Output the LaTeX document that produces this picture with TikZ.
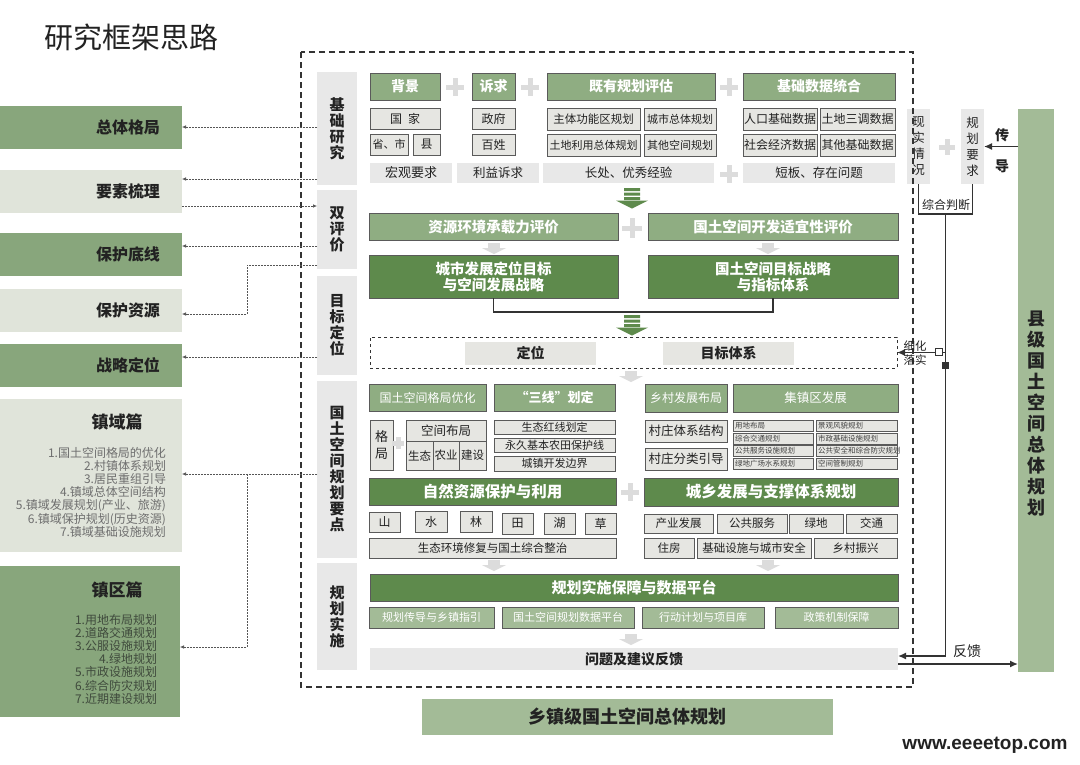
\documentclass[tikz,border=0pt]{standalone}
\usepackage{fontspec}
\setmainfont{Noto Sans CJK SC}
\newfontfamily\wmfont{Liberation Sans}
\usepackage{tikz}
\usetikzlibrary{arrows.meta,calc}

\definecolor{darkgreen}{HTML}{5E8A4C}
\definecolor{midgreen}{HTML}{8FAD82}
\definecolor{palegreen}{HTML}{A3BB97}
\definecolor{sidegreen}{HTML}{88A67C}
\definecolor{sidelight}{HTML}{E0E4DA}
\definecolor{cellgrey}{HTML}{E6E6E2}
\definecolor{labelgrey}{HTML}{E8E8E8}
\definecolor{edgegrey}{HTML}{5A5A5A}
\definecolor{linegrey}{HTML}{333333}
\definecolor{linkgrey}{HTML}{555555}
\definecolor{softgrey}{HTML}{DCDCDC}
\definecolor{listgrey}{HTML}{6E6E6E}
\definecolor{listdark}{HTML}{3F4A3C}
\definecolor{txtdark}{HTML}{222222}

\newcommand{\fsz}[2]{\fontsize{#1}{#2}\selectfont}
% striped green arrow, x and top y
\newcommand{\greenarrow}[2]{%
  \fill[darkgreen] (#1-8,#2) rectangle (#1+8,#2+3) (#1-8,#2+4.5) rectangle (#1+8,#2+7.5) (#1-8,#2+9) rectangle (#1+8,#2+12);
  \fill[darkgreen] (#1-16,#2+12.5) -- (#1+16,#2+12.5) -- (#1,#2+20.5) -- cycle;}
% pale grey arrow, x and top y
\newcommand{\softarrow}[2]{%
  \fill[softgrey] (#1-6,#2) rectangle (#1+6,#2+5);
  \fill[softgrey] (#1-12,#2+5) -- (#1+12,#2+5) -- (#1,#2+11) -- cycle;}
% grey plus sign, x, y and half length
\newcommand{\plusmark}[3]{%
  \draw[plusline] (#1-#3,#2) -- (#1+#3,#2) (#1,#2-#3) -- (#1,#2+#3);}

\begin{document}
\begin{tikzpicture}[x=1pt, y=-1pt,
	every node/.style={inner sep=0pt, outer sep=0pt, text=txtdark},
	sz/.style 2 args={minimum width=#1pt, minimum height=#2pt},
	box/.style={draw=edgegrey, line width=0.6pt, fill=cellgrey},
	head/.style={draw=edgegrey, line width=0.6pt, fill=midgreen, text=white, font=\bfseries\fsz{14}{16}},
	strong/.style={draw=edgegrey, line width=0.6pt, fill=darkgreen, text=white, font=\bfseries\fsz{14.5}{16}},
	soft/.style={draw=edgegrey, line width=0.5pt, fill=palegreen, text=white, font=\fsz{11}{13}},
	tag/.style={fill=labelgrey},
	sec/.style={fill=labelgrey, minimum width=40pt, align=center, font=\bfseries\fsz{15}{16}},
	outbox/.style={sz={182}{43}, text width=138pt, inner xsep=22pt, align=right, font=\bfseries\fsz{16}{18}},
	mini/.style={box, line width=0.4pt, minimum height=11pt, inner xsep=2pt, align=left, text=black!75, font=\fsz{7.5}{8}},
	plusline/.style={softgrey, line width=5pt},
	flow/.style={draw=linegrey, line width=1.4pt},
	tip/.style={-{Latex[length=8pt,width=7pt]}},
	link/.style={draw=linkgrey, line width=0.6pt, dash pattern=on 2pt off 1pt, -{Latex[length=4pt,width=3.5pt]}},
	frame/.style={draw=linegrey, line width=2pt, dash pattern=on 6pt off 4pt}]
	\fill[white] (0,0) rectangle (1080,764);
	\useasboundingbox (0,0) rectangle (1080,764);

	\node[font=\fsz{29}{31}] (title) at (132,37) {研究框架思路};

	% left column
	\node[outbox, fill=sidegreen] (lb1) at (91,127) {总体格局};
	\node[outbox, fill=sidelight] (lb2) at (91,191.5) {要素梳理};
	\node[outbox, fill=sidegreen] (lb3) at (91,254.5) {保护底线};
	\node[outbox, fill=sidelight] (lb4) at (91,310.5) {保护资源};
	\node[outbox, fill=sidegreen] (lb5) at (91,365.5) {战略定位};
	\node[fill=sidelight, sz={182}{153}] (lb6) at (91,475.5) {};
	\node[font=\bfseries\fsz{17}{19}] (lb6t) at (117,422) {镇域篇};
	\node[anchor=north east, align=right, text=listgrey, font=\fsz{12}{13.2}] (lb6l) at (166,447) {1.国土空间格局的优化\\2.村镇体系规划\\3.居民重组引导\\4.镇域总体空间结构\\5.镇域发展规划(产业、旅游)\\6.镇域保护规划(历史资源)\\7.镇域基础设施规划};
	\node[fill=sidegreen, sz={180}{151}] (lb7) at (90,641.5) {};
	\node[font=\bfseries\fsz{17}{19}] (lb7t) at (117,590) {镇区篇};
	\node[anchor=north east, align=right, text=listdark, font=\fsz{12}{13.2}] (lb7l) at (157,614) {1.用地布局规划\\2.道路交通规划\\3.公服设施规划\\4.绿地规划\\5.市政设施规划\\6.综合防灾规划\\7.近期建设规划};

	% section labels
	\node[sec, minimum height=113pt] (sec1) at (337,128.5) {基\\础\\研\\究};
	\node[sec, minimum height=79pt] (sec2) at (337,229.5) {双\\评\\价};
	\node[sec, minimum height=99pt] (sec3) at (337,325.5) {目\\标\\定\\位};
	\node[sec, minimum height=177pt] (sec4) at (337,469.5) {国\\土\\空\\间\\规\\划\\要\\点};
	\node[sec, minimum height=107pt] (sec5) at (337,616.5) {规\\划\\实\\施};

	% basic research
	\node[head, sz={70}{27}] (bg) at (405,86.5) {背景};
	\node[head, sz={43}{27}] (sq) at (493.5,86.5) {诉求};
	\node[head, sz={168}{27}] (pg) at (631,86.5) {既有规划评估};
	\node[head, sz={152}{27}] (sj) at (819,86.5) {基础数据统合};
	\plusmark{455}{87}{9}
	\plusmark{530}{87}{9}
	\plusmark{729}{87}{9}
	\node[box, sz={70}{21}, font=\fsz{12}{14}] (gj) at (405,118.5) {国\hspace{6pt}家};
	\node[box, sz={38}{21}, font=\fsz{11}{13}] (ss) at (389,144.5) {省、市};
	\node[box, sz={27}{21}, font=\fsz{12}{14}] (xian) at (426.5,144.5) {县};
	\node[box, sz={43}{21}, font=\fsz{12}{14}] (zf) at (493.5,118.5) {政府};
	\node[box, sz={43}{21}, font=\fsz{12}{14}] (bx) at (493.5,144.5) {百姓};
	\node[box, sz={93}{22}, font=\fsz{11.5}{13}] (zt) at (593.5,119) {主体功能区规划};
	\node[box, sz={72}{22}, font=\fsz{11}{13}] (cz) at (680,119) {城市总体规划};
	\node[box, sz={93}{22}, font=\fsz{11}{13}] (td) at (593.5,145) {土地利用总体规划};
	\node[box, sz={72}{22}, font=\fsz{11}{13}] (qt) at (680,145) {其他空间规划};
	\node[box, sz={74}{22}, font=\fsz{12}{14}] (rk) at (780,119) {人口基础数据};
	\node[box, sz={75}{22}, font=\fsz{12}{14}] (sd) at (857.5,119) {土地三调数据};
	\node[box, sz={74}{22}, font=\fsz{12}{14}] (sh) at (780,145) {社会经济数据};
	\node[box, sz={75}{22}, font=\fsz{12}{14}] (qj) at (857.5,145) {其他基础数据};
	\node[tag, sz={82}{20}, font=\fsz{13}{15}] (hg) at (411,173) {宏观要求};
	\node[tag, sz={82}{20}, font=\fsz{12.5}{15}] (ly) at (498,173) {利益诉求};
	\node[tag, sz={171}{20}, font=\fsz{12.5}{15}] (cc) at (628.5,173) {长处、优秀经验};
	\node[tag, sz={152}{20}, font=\fsz{12.5}{15}] (db) at (819,173) {短板、存在问题};
	\plusmark{729}{174}{9}
	\greenarrow{632}{188}

	% double evaluation
	\node[head, sz={249}{27}, font=\bfseries\fsz{14.5}{16}] (e1) at (493.5,226.5) {资源环境承载力评价};
	\node[head, sz={250}{27}, font=\bfseries\fsz{14.5}{16}] (e2) at (773,226.5) {国土空间开发适宜性评价};
	\plusmark{632}{228}{10}
	\softarrow{494}{243}
	\softarrow{768}{243}
	\node[strong, sz={249}{43}, align=center] (s1) at (493.5,276.5) {城市发展定位目标\\与空间发展战略};
	\node[strong, sz={250}{43}, align=center] (s2) at (773,276.5) {国土空间目标战略\\与指标体系};
	\draw[flow] (s1.south) -- ++(0,14) -| (s2.south);
	\greenarrow{632}{315}

	% targets
	\node[draw=linegrey, line width=0.8pt, dashed, sz={527}{31}] (tg) at (633.5,352.5) {};
	\node[fill=cellgrey, sz={131}{23}, font=\bfseries\fsz{14}{16}] (dw) at (530.5,353.5) {定位};
	\node[fill=cellgrey, sz={131}{23}, font=\bfseries\fsz{14}{16}] (mb) at (728.5,353.5) {目标体系};
	\softarrow{631}{371}

	% key points
	\node[head, sz={117}{27}, font=\fsz{12}{14}] (p1) at (427.5,397.5) {国土空间格局优化};
	\node[head, sz={121}{27}, font=\bfseries\fsz{13}{15}] (p2) at (554.5,397.5) {“三线”划定};
	\node[head, sz={82}{28}, font=\fsz{12}{14}] (p3) at (686,398) {乡村发展布局};
	\node[head, sz={165}{28}, font=\fsz{12.5}{14}] (p4) at (815.5,398) {集镇区发展};
	\node[box, sz={23}{50}, align=center, font=\fsz{13}{17}] (gju) at (381.5,445) {格\\局};
	\plusmark{398}{443}{6}
	\node[box, sz={80}{21}, font=\fsz{12.5}{14}] (kj) at (446,430.5) {空间布局};
	\node[box, sz={27}{29}, font=\fsz{11.5}{13}] (st) at (419.5,455.5) {生态};
	\node[box, sz={26}{29}, font=\fsz{11.5}{13}] (ny) at (446,455.5) {农业};
	\node[box, sz={27}{29}, font=\fsz{11.5}{13}] (js) at (472.5,455.5) {建设};
	\node[box, sz={121}{14}, font=\fsz{11}{12}] (hx) at (554.5,427) {生态红线划定};
	\node[box, sz={121}{14}, font=\fsz{11}{12}] (nt) at (554.5,445) {永久基本农田保护线};
	\node[box, sz={121}{15}, font=\fsz{11}{12}] (kf) at (554.5,463.5) {城镇开发边界};
	\node[box, sz={82}{22}, font=\fsz{12.5}{14}] (cjg) at (686,431) {村庄体系结构};
	\node[box, sz={82}{22}, font=\fsz{12.5}{14}] (cfl) at (686,459) {村庄分类引导};
	\node[mini, text width=76pt] (g1) at (773,426) {用地布局};
	\node[mini, text width=76pt] (g2) at (773,438.5) {综合交通规划};
	\node[mini, text width=76pt] (g3) at (773,451) {公共服务设施规划};
	\node[mini, text width=76pt] (g4) at (773,463.5) {绿地广场水系规划};
	\node[mini, text width=77pt] (g5) at (856.5,426) {景观风貌规划};
	\node[mini, text width=77pt] (g6) at (856.5,438.5) {市政基础设施规划};
	\node[mini, text width=77pt] (g7) at (856.5,451) {公共安全和综合防灾规划};
	\node[mini, text width=77pt] (g8) at (856.5,463.5) {空间管制规划};
	\node[strong, sz={247}{27}, font=\bfseries\fsz{15.5}{17}] (n1) at (492.5,491.5) {自然资源保护与利用};
	\node[strong, sz={254}{28}, font=\bfseries\fsz{15.5}{17}] (n2) at (771,492) {城乡发展与支撑体系规划};
	\plusmark{630}{492}{9}
	\node[box, sz={31}{20}, font=\fsz{12}{14}] (shan) at (384.5,522) {山};
	\node[box, sz={32}{21}, font=\fsz{12}{14}] (shui) at (431,521.5) {水};
	\node[box, sz={32}{21}, font=\fsz{12}{14}] (lin) at (476,521.5) {林};
	\node[box, sz={31}{21}, font=\fsz{12}{14}] (tian) at (517.5,523.5) {田};
	\node[box, sz={31}{21}, font=\fsz{12}{14}] (hu) at (559.5,523.5) {湖};
	\node[box, sz={31}{21}, font=\fsz{12}{14}] (cao) at (600.5,523.5) {草};
	\node[box, sz={247}{20}, font=\fsz{11.5}{13}] (zz) at (492.5,548) {生态环境修复与国土综合整治};
	\node[box, sz={69}{19}, font=\fsz{11.5}{13}] (cy) at (678.5,523.5) {产业发展};
	\node[box, sz={70}{19}, font=\fsz{11.5}{13}] (gg) at (752,523.5) {公共服务};
	\node[box, sz={54}{19}, font=\fsz{11.5}{13}] (ld) at (816,523.5) {绿地};
	\node[box, sz={51}{19}, font=\fsz{11.5}{13}] (jt) at (871.5,523.5) {交通};
	\node[box, sz={50}{20}, font=\fsz{11.5}{13}] (zf2) at (669,548) {住房};
	\node[box, sz={114}{20}, font=\fsz{11.5}{13}] (jc) at (754,548) {基础设施与城市安全};
	\node[box, sz={83}{20}, font=\fsz{11.5}{13}] (zx) at (855.5,548) {乡村振兴};
	\softarrow{494}{560}
	\softarrow{768}{560}

	% implementation
	\node[strong, sz={528}{27}, font=\bfseries\fsz{15}{17}] (im) at (634,587.5) {规划实施保障与数据平台};
	\node[soft, sz={125}{21}] (i1) at (431.5,617.5) {规划传导与乡镇指引};
	\node[soft, sz={132}{21}] (i2) at (568,617.5) {国土空间规划数据平台};
	\node[soft, sz={122}{21}] (i3) at (703,617.5) {行动计划与项目库};
	\node[soft, sz={123}{21}] (i4) at (836.5,617.5) {政策机制保障};
	\softarrow{631}{634}
	\node[tag, sz={528}{22}, font=\bfseries\fsz{14}{16}] (fb) at (634,659) {问题及建议反馈};

	% right side
	\node[tag, sz={23}{75}, align=center, font=\fsz{12.5}{16}] (xs) at (918.5,146.5) {现\\实\\情\\况};
	\node[tag, sz={23}{75}, align=center, font=\fsz{12.5}{16}] (gy) at (972.5,146.5) {规\\划\\要\\求};
	\plusmark{947}{147}{8}
	\node[fill=palegreen, sz={36}{563}] (cty) at (1036,390.5) {};
	\node[align=center, font=\bfseries\fsz{18}{21}] (ctyt) at (1036,414) {县\\级\\国\\土\\空\\间\\总\\体\\规\\划};
	\node[fill=palegreen, sz={411}{36}, font=\bfseries\fsz{18}{20}] (xz) at (627.5,717) {乡镇级国土空间总体规划};

	\draw[frame] (301,52) rectangle (913,687);

	\draw[flow] (xs.south) -- ++(0,30) -| (gy.south);
	\node[font=\fsz{12}{14}] (zh) at (946,205) {综合判断};
	\coordinate (jd) at ($(xs.south)!0.5!(gy.south)+(0,30)$);
	\draw[flow, tip] (jd) |- ([yshift=3pt]fb.east);
	\draw[flow, tip] (jd |- tg.east) -- (tg.east);
	\node[font=\fsz{11.5}{13}] (xh) at (915,346) {细化};
	\node[font=\fsz{11.5}{13}] (lsh) at (915,360) {落实};
	\draw[linegrey, fill=white, line width=0.8pt] (935,348.5) rectangle (942,355.5);
	\fill[linegrey] (941.5,361.5) rectangle (948.5,368.5);
	\draw[flow, tip] (cty.west |- gy.east) -- (gy.east);
	\node[font=\bfseries\fsz{14}{16}] (cd1) at (1002,135) {传};
	\node[font=\bfseries\fsz{14}{16}] (cd2) at (1002,166) {导};
	\draw[flow, tip] ([yshift=-5pt]fb.east) -- ([yshift=-5pt]fb.east -| cty.west);
	\node[font=\fsz{14}{16}] (fk) at (967,651) {反馈};

	% links to the left column
	\coordinate (jog) at (247,0);
	\coordinate (t2) at ($(lb2.east)+(0,-12.5)$);
	\coordinate (f2) at ($(lb2.east)+(0,14.5)$);
	\coordinate (t3) at ($(lb3.east)+(0,-8.5)$);
	\coordinate (f4) at ($(sec2.west)+(0,35.5)$);
	\coordinate (t4) at ($(lb4.east)+(0,3.5)$);
	\coordinate (t5) at ($(lb5.east)+(0,-8.5)$);
	\coordinate (t6) at ($(lb6.east)+(0,-1.5)$);
	\coordinate (t7) at ($(lb7.east)+(0,5.5)$);
	\draw[link] (lb1.east -| sec1.west) -- (lb1.east);
	\draw[link] (t2 -| sec1.west) -- (t2);
	\draw[link] (f2) -- (f2 -| sec2.west);
	\draw[link] (t3 -| sec2.west) -- (t3);
	\draw[link] (f4) -- (f4 -| jog) |- (t4);
	\draw[link] (t5 -| sec3.west) -- (t5);
	\draw[link] (t6 -| sec4.west) -- (t6);
	\draw[link] (t6 -| jog) |- (t7);

	\node[font=\wmfont\bfseries\fsz{19}{21}] (wm) at (985,745) {www.eeeetop.com};
\end{tikzpicture}
\end{document}
